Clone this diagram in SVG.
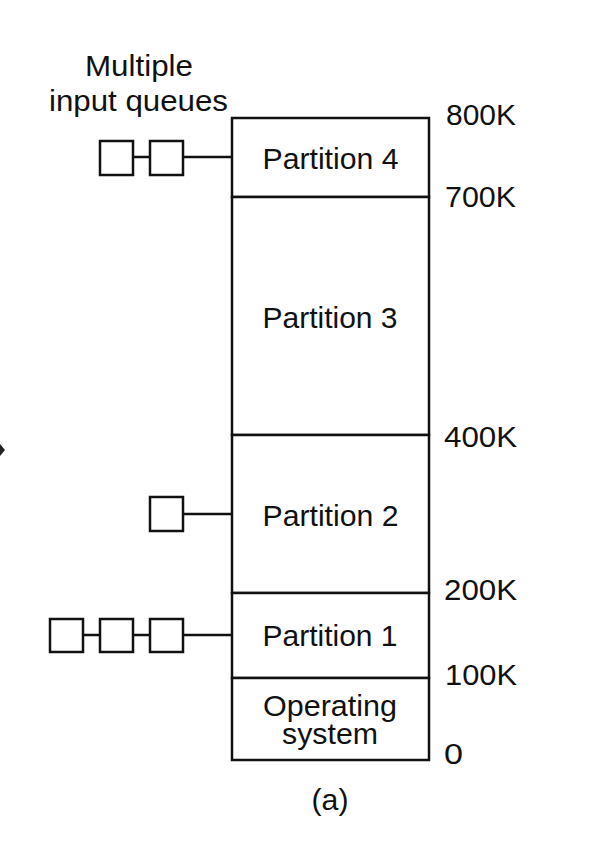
<svg xmlns="http://www.w3.org/2000/svg" width="614" height="864" viewBox="0 0 614 864">
<style>
.box{fill:#fff;stroke:#111;stroke-width:2.5}
.q{fill:#fff;stroke:#111;stroke-width:2.5}
.c{stroke:#111;stroke-width:2.5;fill:none}
text{font-family:"Liberation Sans",Arial,Helvetica,sans-serif;font-size:29px;fill:#111}
.p{font-size:30px}
.m{text-anchor:middle}
</style>
<rect width="614" height="864" fill="#fff"/>
<g id="title">
<text class="m" x="139" y="76" textLength="108" lengthAdjust="spacingAndGlyphs">Multiple</text>
<text class="m" x="138.5" y="111" textLength="179" lengthAdjust="spacingAndGlyphs">input queues</text>
</g>
<g id="partition4">
<rect class="box" x="232" y="118" width="197" height="79"/>
<text class="m p" x="330.5" y="169" textLength="136" lengthAdjust="spacingAndGlyphs">Partition 4</text>
</g>
<g id="partition3">
<rect class="box" x="232" y="197" width="197" height="238"/>
<text class="m p" x="330" y="328" textLength="135" lengthAdjust="spacingAndGlyphs">Partition 3</text>
</g>
<g id="partition2">
<rect class="box" x="232" y="435" width="197" height="158"/>
<text class="m p" x="330.5" y="526" textLength="136" lengthAdjust="spacingAndGlyphs">Partition 2</text>
</g>
<g id="partition1">
<rect class="box" x="232" y="593" width="197" height="85"/>
<text class="m p" x="330" y="646" textLength="135" lengthAdjust="spacingAndGlyphs">Partition 1</text>
</g>
<g id="os">
<rect class="box" x="232" y="678" width="197" height="82"/>
<text class="m" x="330" y="716" textLength="134" lengthAdjust="spacingAndGlyphs">Operating</text>
<text class="m" x="330" y="744" textLength="96" lengthAdjust="spacingAndGlyphs">system</text>
</g>
<g id="addresses">
<text x="446" y="125" textLength="70" lengthAdjust="spacingAndGlyphs">800K</text>
<text x="445" y="207" textLength="71" lengthAdjust="spacingAndGlyphs">700K</text>
<text x="444" y="447" textLength="73" lengthAdjust="spacingAndGlyphs">400K</text>
<text x="444" y="600" textLength="73" lengthAdjust="spacingAndGlyphs">200K</text>
<text x="445" y="685" textLength="72" lengthAdjust="spacingAndGlyphs">100K</text>
<text x="444" y="764" textLength="19" lengthAdjust="spacingAndGlyphs">0</text>
</g>
<g id="queue4">
<rect class="q" x="100" y="141" width="33" height="34"/>
<rect class="q" x="150" y="141" width="33" height="34"/>
</g>
<g id="queue2">
<rect class="q" x="150" y="497" width="33" height="34"/>
</g>
<g id="queue1">
<rect class="q" x="50" y="619" width="33" height="33"/>
<rect class="q" x="100" y="619" width="33" height="33"/>
<rect class="q" x="150" y="619" width="33" height="33"/>
</g>
<g id="connectors">
<line class="c" x1="133" y1="157" x2="150" y2="157"/>
<line class="c" x1="183" y1="157" x2="232" y2="157"/>
<line class="c" x1="183" y1="514" x2="232" y2="514"/>
<line class="c" x1="83" y1="635" x2="100" y2="635"/>
<line class="c" x1="133" y1="635" x2="150" y2="635"/>
<line class="c" x1="183" y1="635" x2="232" y2="635"/>
<polygon points="0,444 5,450 0,456" fill="#222"/>
</g>
<g id="caption">
<text class="m" x="330" y="810" textLength="37" lengthAdjust="spacingAndGlyphs">(a)</text>
</g>
</svg>
